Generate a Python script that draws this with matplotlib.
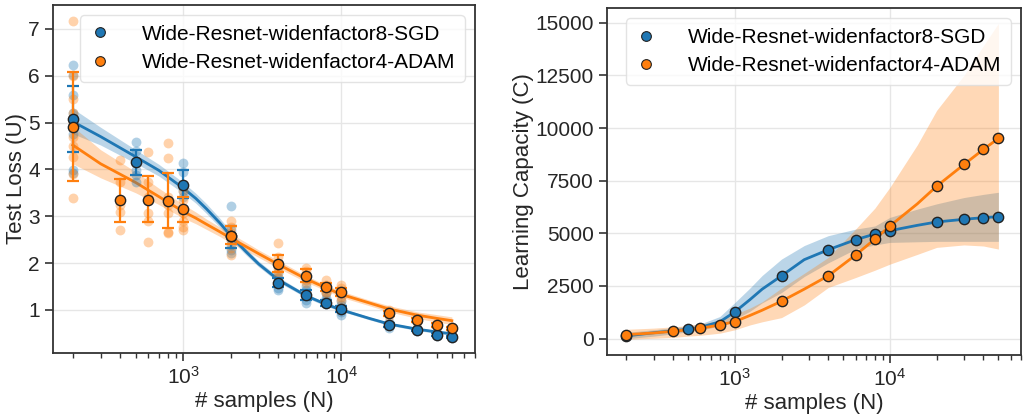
import matplotlib
matplotlib.use("Agg")
import numpy as np
import matplotlib.pyplot as plt
from matplotlib.lines import Line2D

plt.rcParams['font.family'] = ['Liberation Sans', 'DejaVu Sans']
plt.rcParams['mathtext.default'] = 'regular'

BLUE = '#1f77b4'
ORANGE = '#ff7f0e'
labels = ['Wide-Resnet-widenfactor8-SGD', 'Wide-Resnet-widenfactor4-ADAM']

# ---- left panel: test loss ----
n_sgd = [200, 500, 1000, 2000, 4000, 6000, 8000, 10000, 20000, 30000, 40000, 50000]
loss_sgd_mean = [5.08, 4.15, 3.67, 2.58, 1.57, 1.31, 1.14, 1.01, 0.68, 0.57, 0.47, 0.42]
loss_sgd_lo = [4.37, 3.88, 3.38, 2.33, 1.48, 1.22, 1.08, 0.95, 0.64, 0.54, 0.44, 0.40]
loss_sgd_hi = [5.78, 4.42, 3.98, 2.80, 1.68, 1.42, 1.22, 1.09, 0.73, 0.60, 0.50, 0.45]
loss_sgd_runs = [
    [6.23, 6.02, 5.59, 5.20, 4.95, 3.99, 3.92, 4.75],
    [4.59, 4.40, 4.15, 3.99, 3.88, 3.74],
    [4.13, 3.95, 3.67, 3.53, 3.42],
    [3.22, 2.71, 2.49, 2.39, 2.28, 2.21],
    [1.78, 1.68, 1.57, 1.46, 1.43],
    [1.50, 1.43, 1.32, 1.21, 1.14],
    [1.36, 1.25, 1.21, 1.13],
    [1.18, 1.11, 1.04, 0.96, 0.89],
    [0.75, 0.68, 0.61],
    [0.61, 0.54],
    [0.50, 0.44],
    [0.44, 0.40],
]

n_adam = [200, 400, 600, 800, 1000, 2000, 4000, 6000, 8000, 10000, 20000, 30000, 40000, 50000]
loss_adam_mean = [4.91, 3.34, 3.35, 3.32, 3.15, 2.58, 1.98, 1.73, 1.48, 1.38, 0.93, 0.79, 0.67, 0.61]
loss_adam_lo = [3.75, 2.87, 2.87, 2.74, 2.87, 2.40, 1.80, 1.60, 1.40, 1.30, 0.88, 0.75, 0.63, 0.58]
loss_adam_hi = [6.07, 3.80, 3.85, 3.92, 3.42, 2.80, 2.18, 1.87, 1.57, 1.47, 0.98, 0.83, 0.71, 0.64]
loss_adam_runs = [
    [7.17, 6.00, 5.50, 5.20, 4.70, 4.50, 4.27, 3.39, 5.00, 3.90],
    [4.20, 3.74, 3.35, 3.24, 3.10, 2.71],
    [4.38, 3.74, 3.42, 3.06, 2.89, 2.46],
    [4.57, 4.24, 3.42, 3.24, 3.06, 2.67, 2.64],
    [3.53, 3.35, 3.06, 2.89, 2.78, 2.71],
    [2.89, 2.78, 2.64, 2.49, 2.32, 2.17],
    [2.42, 2.14, 2.00, 1.89, 1.82, 1.71],
    [1.89, 1.82, 1.71, 1.64, 1.57],
    [1.64, 1.53, 1.46, 1.39, 1.36],
    [1.53, 1.46, 1.36, 1.28, 1.21],
    [1.00, 0.93, 0.86],
    [0.82, 0.75],
    [0.72, 0.64],
    [0.64, 0.57],
]

fit_n = [200, 300, 500, 700, 1000, 1200, 1400, 1700, 2000, 2500, 3000, 4000, 6000, 8000, 10000, 15000, 20000, 30000, 40000, 50000]
fit_sgd = [5.02, 4.70, 4.27, 3.98, 3.60, 3.38, 3.16, 2.86, 2.58, 2.24, 1.98, 1.64, 1.30, 1.12, 1.00, 0.82, 0.70, 0.59, 0.53, 0.49]
fit_sgd_lo = [4.76, 4.52, 4.13, 3.86, 3.49, 3.28, 3.06, 2.77, 2.50, 2.17, 1.92, 1.59, 1.26, 1.08, 0.97, 0.79, 0.67, 0.56, 0.50, 0.46]
fit_sgd_hi = [5.30, 4.90, 4.42, 4.11, 3.72, 3.49, 3.27, 2.96, 2.67, 2.31, 2.04, 1.70, 1.34, 1.16, 1.04, 0.85, 0.73, 0.62, 0.56, 0.52]
fit_adam = [4.52, 4.12, 3.72, 3.42, 3.10, 2.96, 2.83, 2.67, 2.53, 2.35, 2.20, 1.97, 1.66, 1.47, 1.33, 1.15, 1.02, 0.89, 0.82, 0.77]
fit_adam_lo = [4.12, 3.82, 3.50, 3.25, 2.96, 2.84, 2.72, 2.57, 2.43, 2.26, 2.12, 1.89, 1.59, 1.41, 1.27, 1.09, 0.96, 0.82, 0.74, 0.69]
fit_adam_hi = [4.92, 4.42, 3.95, 3.60, 3.25, 3.09, 2.94, 2.77, 2.63, 2.44, 2.28, 2.05, 1.73, 1.53, 1.40, 1.21, 1.09, 0.96, 0.90, 0.85]

# ---- right panel: learning capacity ----
cap_sgd = [130, 444, 1270, 2984, 4222, 4698, 4968, 5127, 5540, 5667, 5746, 5794]
cap_adam = [190, 349, 492, 651, 810, 1778, 2984, 3968, 4730, 5349, 7238, 8270, 8984, 9508]

curve_n = [200, 300, 400, 500, 600, 800, 1000, 1250, 1500, 2000, 2800, 4000, 6000, 8000, 10000, 15000, 20000, 30000, 40000, 50000]
curve_sgd = [130, 280, 370, 444, 540, 800, 1270, 1850, 2350, 2984, 3750, 4222, 4698, 4968, 5127, 5380, 5540, 5667, 5746, 5794]
curve_sgd_lo = [0, 120, 230, 330, 400, 600, 924, 1300, 1700, 2190, 2950, 3600, 4250, 4450, 4570, 4600, 4620, 4620, 4620, 4620]
curve_sgd_hi = [300, 420, 520, 600, 700, 1050, 1714, 2400, 3000, 3780, 4420, 4890, 5200, 5350, 5760, 6150, 6400, 6700, 6850, 6950]
curve_adam = [190, 270, 349, 420, 492, 651, 810, 1100, 1350, 1778, 2350, 2984, 3968, 4730, 5349, 6400, 7238, 8270, 8984, 9508]
curve_adam_lo = [-30, 20, 60, 120, 160, 260, 420, 650, 800, 1000, 1600, 2429, 2900, 3250, 3540, 4000, 4333, 4450, 4400, 4254]
curve_adam_hi = [444, 500, 560, 620, 700, 850, 1160, 1450, 1750, 2400, 3100, 3857, 5200, 6200, 7190, 9200, 10840, 12500, 13900, 14968]

fig = plt.figure(figsize=(10.23, 4.15), dpi=100)
ax1 = fig.add_axes([0.0518, 0.1494, 0.4125, 0.8386])
ax2 = fig.add_axes([0.5934, 0.1446, 0.4047, 0.8361])


def style_axis(ax):
    ax.set_xscale('log')
    ax.set_xlim(150, 70000)
    ax.grid(True, which='major', color='#e6e6e6', linewidth=1.0)
    ax.set_axisbelow(True)
    for s in ax.spines.values():
        s.set_color('#333333')
        s.set_linewidth(1.3)
    ax.tick_params(which='major', length=6, width=1.2, color='#333333',
                   labelsize=15, labelcolor='#262626')
    ax.tick_params(which='minor', length=3.5, width=1.0, color='#333333')
    ax.set_xlabel('# samples (N)', fontsize=16, color='#262626', labelpad=2)
    handles = [Line2D([], [], ls='none', marker='o', ms=7, color=c,
                      markeredgecolor='#222222', markeredgewidth=0.8) for c in (BLUE, ORANGE)]
    ax.legend(handles, labels, loc='upper right', fontsize=15, handlelength=1.0,
              handletextpad=1.5, borderpad=0.45, labelspacing=0.45,
              framealpha=0.8, edgecolor='#dddddd', borderaxespad=0.5)


# left panel
ax1.fill_between(fit_n, fit_sgd_lo, fit_sgd_hi, color=BLUE, alpha=0.3, lw=0)
ax1.fill_between(fit_n, fit_adam_lo, fit_adam_hi, color=ORANGE, alpha=0.3, lw=0)
for n, mean, lo, hi, runs, fit, c in [
        (n_sgd, loss_sgd_mean, loss_sgd_lo, loss_sgd_hi, loss_sgd_runs, fit_sgd, BLUE),
        (n_adam, loss_adam_mean, loss_adam_lo, loss_adam_hi, loss_adam_runs, fit_adam, ORANGE)]:
    ax1.plot(fit_n, fit, color=c, lw=2, zorder=3)
    xs = [x for x, r in zip(n, runs) for _ in r]
    ys = [v for r in runs for v in r]
    ax1.scatter(xs, ys, s=50, color=c, alpha=0.35, lw=0, zorder=4)
    mean = np.array(mean)
    yerr = [mean - np.array(lo), np.array(hi) - mean]
    ax1.errorbar(n, mean, yerr=yerr, fmt='none', ecolor=c, elinewidth=1.6,
                 capsize=4, capthick=1.6, zorder=5)
    ax1.scatter(n, mean, s=55, color=c, edgecolor='#222222', lw=1.0, zorder=6)

ax1.set_ylim(0.08, 7.51)
ax1.set_yticks([1, 2, 3, 4, 5, 6, 7])
ax1.set_ylabel('Test Loss (U)', fontsize=16, color='#262626', labelpad=1)
style_axis(ax1)

# right panel
ax2.fill_between(curve_n, curve_sgd_lo, curve_sgd_hi, color=BLUE, alpha=0.3, lw=0)
ax2.fill_between(curve_n, curve_adam_lo, curve_adam_hi, color=ORANGE, alpha=0.3, lw=0)
ax2.plot(curve_n, curve_sgd, color=BLUE, lw=2, zorder=3)
ax2.plot(curve_n, curve_adam, color=ORANGE, lw=2, zorder=3)
ax2.scatter(n_sgd, cap_sgd, s=55, color=BLUE, edgecolor='#222222', lw=1.0, zorder=6)
ax2.scatter(n_adam, cap_adam, s=55, color=ORANGE, edgecolor='#222222', lw=1.0, zorder=6)
ax2.set_ylim(-776, 15700)
ax2.set_yticks([0, 2500, 5000, 7500, 10000, 12500, 15000])
ax2.set_ylabel('Learning Capacity (C)', fontsize=16, color='#262626', labelpad=1)
style_axis(ax2)

fig.savefig('out.png', dpi=100)
